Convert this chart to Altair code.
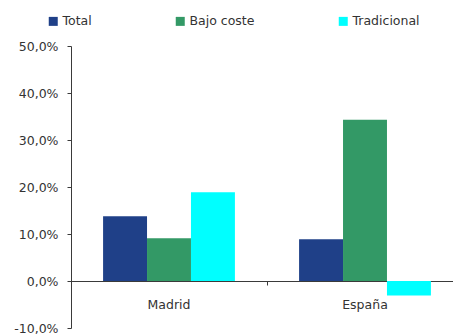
import altair as alt
import pandas as pd

categories = ["Madrid", "España"]
series = ["Total", "Bajo coste", "Tradicional"]
total = [0.138, 0.089]
bajo_coste = [0.091, 0.343]
tradicional = [0.189, -0.031]
colors = ["#1F4088", "#339966", "#00FFFF"]

rows = []
for i, c in enumerate(categories):
    for s, vals in zip(series, [total, bajo_coste, tradicional]):
        rows.append({"region": c, "serie": s, "valor": vals[i]})
df = pd.DataFrame(rows)

FONT = "DejaVu Sans"
FS = 12.5
AXC = "#3a3a3a"
label_expr = "replace(replace(format(datum.value, '.1%'), '.', ','), '\u2212', '-')"

chart = alt.Chart(df).mark_bar().encode(
    x=alt.X("region:N", sort=categories, title=None,
            scale=alt.Scale(range=[0, 392], paddingInner=0, paddingOuter=0),
            axis=alt.Axis(orient="bottom", offset=-47, labelAngle=0, bandPosition=0,
                          tickSize=4, labelPadding=13, domainColor=AXC,
                          tickColor=AXC, labelColor="#333333",
                          labelFont=FONT, labelFontSize=FS)),
    xOffset=alt.XOffset("serie:N", sort=series,
                        scale=alt.Scale(paddingInner=0, paddingOuter=0.73)),
    y=alt.Y("valor:Q", title=None,
            scale=alt.Scale(domain=[-0.1, 0.5], nice=False, zero=False),
            axis=alt.Axis(values=[-0.1, 0, 0.1, 0.2, 0.3, 0.4, 0.5], labelExpr=label_expr,
                          grid=False, tickSize=4, labelPadding=9,
                          domainColor=AXC, tickColor=AXC,
                          labelColor="#333333", labelFont=FONT, labelFontSize=FS)),
    color=alt.Color("serie:N", sort=series,
                    scale=alt.Scale(domain=series, range=colors),
                    legend=alt.Legend(title=None, orient="none", direction="horizontal",
                                      legendX=-24, legendY=-31, symbolType="square",
                                      symbolSize=81, symbolStrokeWidth=0,
                                      columnPadding=82, labelFont=FONT,
                                      labelFontSize=FS, labelColor="#333333",
                                      labelOffset=3)),
).properties(
    width=382, height=282,
    background="white",
    autosize=alt.AutoSizeParams(type="none"),
    padding={"left": 71, "top": 46, "right": 0, "bottom": 7},
).configure_view(strokeWidth=0, stroke="transparent")

chart.save("out.html", embed_options={"renderer": "svg", "actions": False})
